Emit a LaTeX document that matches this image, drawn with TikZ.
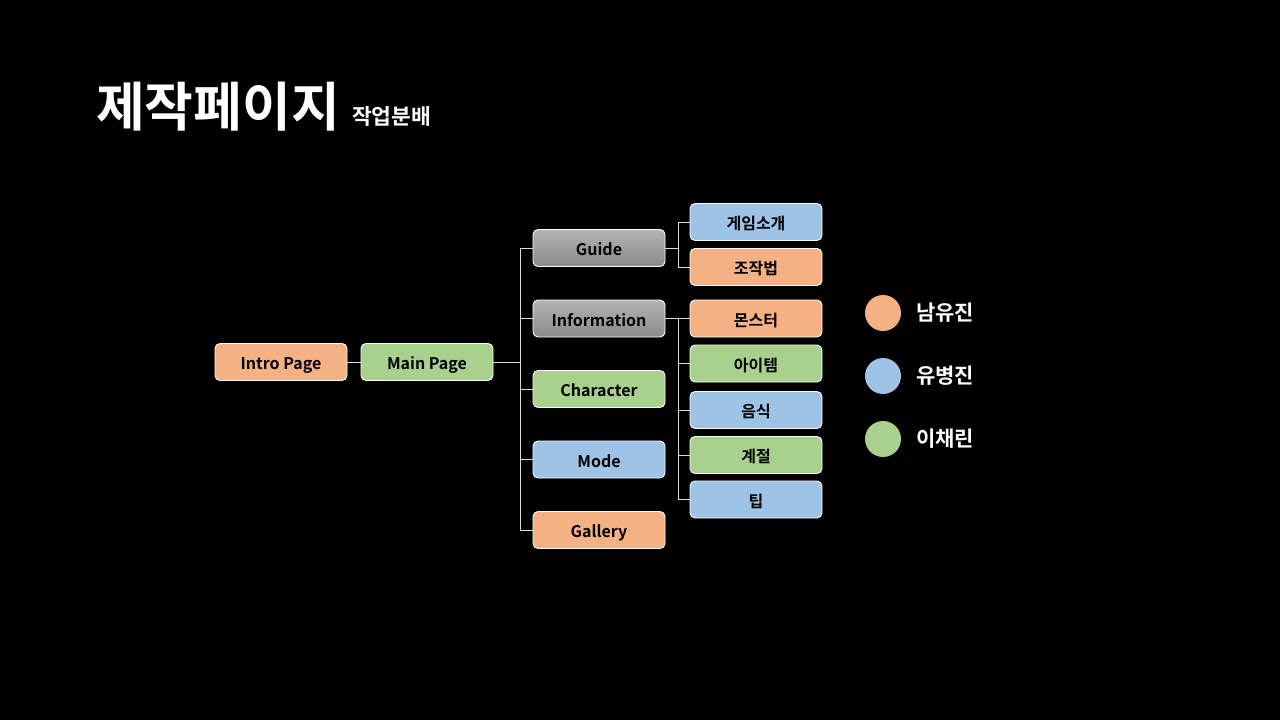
\documentclass[tikz,border=0pt]{standalone}
\usepackage{fontspec}
\setmainfont{Noto Sans CJK KR}[BoldFont={* Bold}]
\usetikzlibrary{positioning}
\definecolor{cor}{HTML}{F4B183}
\definecolor{cgr}{HTML}{A9D18E}
\definecolor{cbl}{HTML}{9DC3E6}
\definecolor{cgtop}{HTML}{B4B4B4}
\definecolor{cgbot}{HTML}{8A8A8A}
\definecolor{cline}{HTML}{D9D9D9}
\tikzset{
  boxbase/.style={draw=white, line width=0.9pt, rounded corners=5pt, minimum width=132pt, minimum height=37pt, inner sep=0pt, text height=15pt, text depth=0pt, font=\bfseries\fontsize{16}{19}\selectfont, text=black},
  obox/.style={boxbase, fill=cor},
  gbox/.style={boxbase, fill=cgr},
  bbox/.style={boxbase, fill=cbl},
  graybox/.style={boxbase, top color=cgtop, bottom color=cgbot},
  conn/.style={draw=cline, line width=0.9pt},
  legdot/.style={circle, minimum size=36pt, inner sep=0pt},
  legtxt/.style={anchor=west, text=white, font=\bfseries\fontsize{21}{25}\selectfont, inner sep=0pt}
}
\begin{document}
\begin{tikzpicture}[x=1pt,y=-1pt]
\fill[black] (0,0) rectangle (1280,720);
\useasboundingbox (0,0) rectangle (1280,720);
% title
\node[anchor=west, inner sep=0pt, text=white, font=\bfseries\fontsize{53}{60}\selectfont] (title) at (96,107) {제작페이지};
\node[anchor=west, inner sep=0pt, text=white, font=\bfseries\fontsize{21.5}{25}\selectfont] (sub) at (352,116) {작업분배};
% level 1
\node[obox] (intro) at (281,362) {Intro Page};
\node[gbox] (main) at (427,362) {Main Page};
% level 2
\node[graybox] (guide) at (599,248) {Guide};
\node[graybox] (info) at (599,318.5) {Information};
\node[gbox] (char) at (599,389) {Character};
\node[bbox] (mode) at (599,459.5) {Mode};
\node[obox] (gall) at (599,530) {Gallery};
% level 3
\node[bbox] (intro3) at (756,222) {게임소개};
\node[obox] (ctrl) at (756,267) {조작법};
\node[obox] (mon) at (756,318.5) {몬스터};
\node[gbox] (item) at (756,363.5) {아이템};
\node[bbox] (food) at (756,410) {음식};
\node[gbox] (season) at (756,455) {계절};
\node[bbox] (tip) at (756,499.5) {팁};
% connectors
\coordinate (b1) at (520,362);
\coordinate (b2) at (678,248);
\coordinate (b3) at (678,318.5);
\draw[conn] (intro.east) -- (main.west);
\draw[conn] (main.east) -- (b1);
\draw[conn] (b1) |- (guide.west);
\draw[conn] (b1) |- (info.west);
\draw[conn] (b1) |- (char.west);
\draw[conn] (b1) |- (mode.west);
\draw[conn] (b1) |- (gall.west);
\draw[conn] (guide.east) -- (b2);
\draw[conn] (b2) |- (intro3.west);
\draw[conn] (b2) |- (ctrl.west);
\draw[conn] (info.east) -- (b3);
\draw[conn] (b3) |- (mon.west);
\draw[conn] (b3) |- (item.west);
\draw[conn] (b3) |- (food.west);
\draw[conn] (b3) |- (season.west);
\draw[conn] (b3) |- (tip.west);
% legend
\node[legdot, fill=cor] (d1) at (883,313) {};
\node[legdot, fill=cbl] (d2) at (883,376) {};
\node[legdot, fill=cgr] (d3) at (883,439) {};
\node[legtxt] (l1) at (916,313) {남유진};
\node[legtxt] (l2) at (916,376) {유병진};
\node[legtxt] (l3) at (916,439) {이채린};
\end{tikzpicture}
\end{document}
